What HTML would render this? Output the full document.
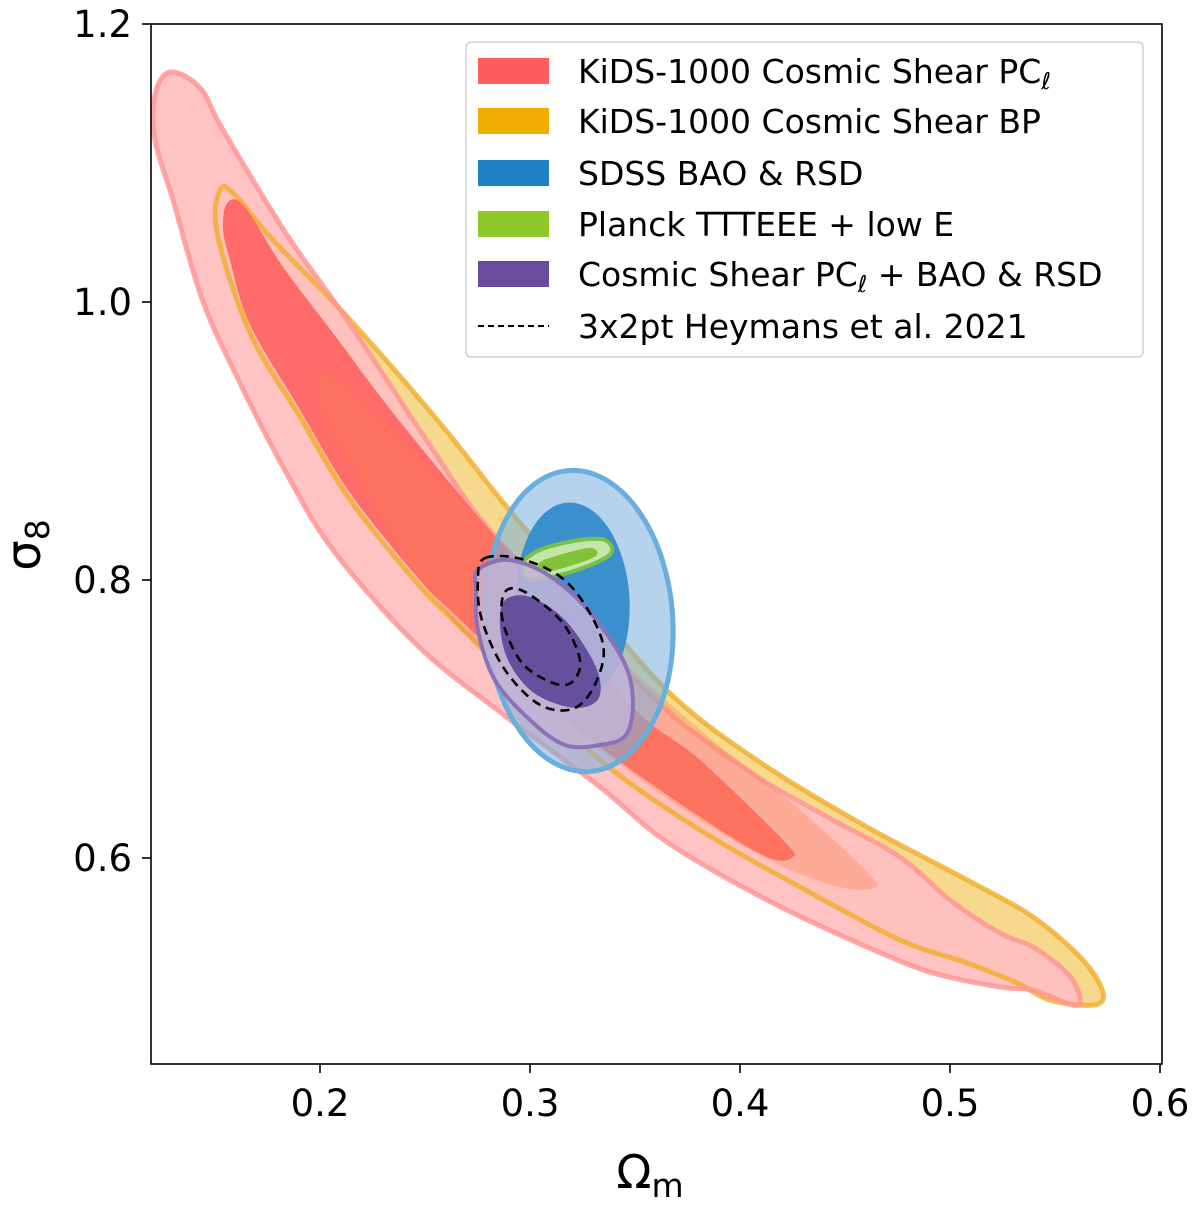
<!DOCTYPE html>
<html><head><meta charset="utf-8"><style>
html,body{margin:0;padding:0;background:#fff}
svg text{font-family:"DejaVu Sans","Liberation Sans",sans-serif;fill:#000}
</style></head><body>
<svg id="chart" width="1200" height="1203" viewBox="0 0 1200 1203" xmlns="http://www.w3.org/2000/svg">
<defs><clipPath id="clip"><rect x="151" y="24" width="1011" height="1040"/></clipPath></defs>
<g id="marks" clip-path="url(#clip)"></g>
<rect x="151" y="24" width="1011" height="1040" fill="none" stroke="#000" stroke-width="1.6"/>
<g id="axes"></g>
<text x="40" y="545" font-size="48" text-anchor="middle" transform="rotate(-90 40 545)">σ<tspan font-size="33" dy="9">8</tspan></text>
<text x="650" y="1188" font-size="46" text-anchor="middle">Ω<tspan font-size="33" dy="9">m</tspan></text>
<g id="legend"></g>
</svg>
<script>
const xTicks=[0.2,0.3,0.4,0.5,0.6];
const yTicks=[0.6,0.8,1.0,1.2];
const xTickLabels=["0.2","0.3","0.4","0.5","0.6"];
const yTickLabels=["0.6","0.8","1.0","1.2"];
const kidsPclOuter=[[0.1286,1.1655],[0.1429,1.1540],[0.1538,1.1237],[0.1843,1.0482],[0.2129,0.9871],[0.2538,0.8935],[0.2795,0.8381],[0.3214,0.7712],[0.3652,0.7065],[0.3810,0.6871],[0.4129,0.6540],[0.4443,0.6273],[0.4762,0.6007],[0.5,0.5698],[0.5238,0.5460],[0.5395,0.5360],[0.5557,0.5173],[0.5619,0.5],[0.5586,0.4942],[0.5395,0.5050],[0.5238,0.5072],[0.4919,0.5173],[0.4605,0.5360],[0.4129,0.5698],[0.3652,0.6115],[0.3333,0.6511],[0.2857,0.7050],[0.2462,0.7532],[0.2062,0.8216],[0.1824,0.8813],[0.1619,0.9417],[0.1440,1.0014],[0.1300,1.0734],[0.1214,1.1165],[0.1214,1.1489]];
const kidsPclInner=[[0.1562,1.0719],[0.1643,1.0683],[0.1824,1.0252],[0.2062,0.9777],[0.2300,0.9295],[0.2619,0.8698],[0.3048,0.7928],[0.3490,0.7086],[0.3810,0.6705],[0.4205,0.6129],[0.4252,0.6007],[0.4129,0.6007],[0.3810,0.6295],[0.3333,0.6799],[0.3048,0.7173],[0.2619,0.7784],[0.2462,0.8022],[0.2143,0.8626],[0.1905,0.9223],[0.1667,0.9835],[0.1571,1.0302],[0.1538,1.0540]];
const kidsBpOuter=[[0.1524,1.0806],[0.1595,1.0770],[0.1776,1.0446],[0.2143,0.9871],[0.2571,0.9129],[0.2890,0.8525],[0.3333,0.7748],[0.3700,0.7137],[0.4129,0.6655],[0.4605,0.6223],[0.5081,0.5842],[0.5395,0.5576],[0.5633,0.5266],[0.5729,0.5029],[0.5681,0.4942],[0.5476,0.4978],[0.5319,0.5101],[0.5081,0.5245],[0.4762,0.5410],[0.4286,0.5791],[0.3810,0.6201],[0.3333,0.6705],[0.2857,0.7388],[0.2619,0.7734],[0.2462,0.7978],[0.2143,0.8576],[0.1905,0.9173],[0.1667,0.9777],[0.1510,1.0496]];
const kidsBpInner=[[0.2,0.9460],[0.2119,0.9403],[0.2476,0.8863],[0.2857,0.8288],[0.3333,0.7568],[0.3810,0.6921],[0.4286,0.6345],[0.4619,0.5878],[0.4633,0.5784],[0.4476,0.5791],[0.4190,0.5950],[0.3810,0.6273],[0.3333,0.6777],[0.2857,0.7353],[0.2476,0.8],[0.2190,0.8719],[0.2024,0.9151],[0.1990,0.9367]];
const sdssCenter=[0.3235,0.7705];
const sdssOuterRadii=[0.0445,0.1085];
const sdssInnerCenter=[0.3205,0.7849];
const sdssInnerRadii=[0.0269,0.0709];
const planckOuter=[[0.2976,0.8144],[0.3071,0.8230],[0.3238,0.8288],[0.3357,0.8288],[0.3390,0.8201],[0.3310,0.8122],[0.3143,0.8036],[0.3,0.8],[0.2967,0.8058]];
const planckInner=[[0.3048,0.8129],[0.3190,0.8201],[0.3295,0.8230],[0.3314,0.8173],[0.3190,0.8101],[0.3062,0.8058]];
const comboOuter=[[0.2752,0.8072],[0.2895,0.8144],[0.3086,0.8036],[0.3276,0.7784],[0.3443,0.7424],[0.3490,0.7137],[0.3457,0.6885],[0.3333,0.6813],[0.3167,0.6813],[0.3,0.6993],[0.2833,0.7281],[0.2752,0.7640],[0.2743,0.7928]];
const comboInner=[[0.2881,0.7856],[0.3,0.7878],[0.3167,0.7712],[0.3310,0.7388],[0.3333,0.7173],[0.3262,0.7086],[0.3143,0.7101],[0.3,0.7209],[0.2895,0.7424],[0.2857,0.7676]];
const heymansOuter=[[0.2786,0.8158],[0.2976,0.8144],[0.3190,0.7964],[0.3343,0.7568],[0.3319,0.7281],[0.3214,0.7079],[0.3048,0.7101],[0.2881,0.7353],[0.2771,0.7712],[0.2752,0.8]];
const heymansInner=[[0.2881,0.7914],[0.2976,0.7914],[0.3152,0.7698],[0.3238,0.7424],[0.3200,0.7266],[0.3110,0.7259],[0.2962,0.7403],[0.2871,0.7698]];
const legendLabels=["KiDS-1000 Cosmic Shear PC","KiDS-1000 Cosmic Shear BP","SDSS BAO & RSD","Planck TTTEEE + low E","Cosmic Shear PC","3x2pt Heymans et al. 2021"];

const NS="http://www.w3.org/2000/svg";
const X=v=>152+(v-0.12)*2100;
const Y=v=>24+(1.2-v)*1390;
function el(tag,attrs,parent){const e=document.createElementNS(NS,tag);for(const k in attrs)e.setAttribute(k,attrs[k]);parent.appendChild(e);return e;}
function smoothPath(pts){
  const p=pts.map(d=>[X(d[0]),Y(d[1])]);const n=p.length;let s=`M${p[0][0]},${p[0][1]}`;
  for(let i=0;i<n;i++){const p0=p[(i-1+n)%n],p1=p[i],p2=p[(i+1)%n],p3=p[(i+2)%n];
    const c1=[p1[0]+(p2[0]-p0[0])/6,p1[1]+(p2[1]-p0[1])/6],c2=[p2[0]-(p3[0]-p1[0])/6,p2[1]-(p3[1]-p1[1])/6];
    s+=`C${c1[0]},${c1[1]} ${c2[0]},${c2[1]} ${p2[0]},${p2[1]}`;}
  return s+"Z";}
const marks=document.getElementById('marks');
function contour(pts,fill,stroke,sw,name,extra){
  const e=el('path',Object.assign({d:smoothPath(pts),fill:fill,stroke:stroke,'stroke-width':sw,'stroke-linejoin':'round'},extra||{}),marks);
  
  
  return e;}
function ellipse(c,r,rot,fill,stroke,sw,name){
  const rx=r[0]*2100,ry=r[1]*1390;
  const e=el('ellipse',{cx:X(c[0]),cy:Y(c[1]),rx:rx,ry:ry,transform:`rotate(${rot} ${X(c[0])} ${Y(c[1])})`,fill:fill,stroke:stroke,'stroke-width':sw},marks);
  
  }
contour(kidsBpOuter,'#f7d98e','none',0,'kids-bp-outer-fill');
contour(kidsPclOuter,'rgba(255,190,192,0.93)','none',0,'kids-pcl-outer-contour');
contour(kidsBpOuter,'none','rgba(240,172,40,0.8)',5,'kids-bp-outer-contour');
contour(kidsPclOuter,'none','rgba(255,150,150,0.85)',5,'kids-pcl-outer-edge');
contour(kidsPclInner,'#ff6b68','none',0,'kids-pcl-inner-contour');
contour(kidsBpInner,'rgba(250,130,80,0.35)','none',0,'kids-bp-inner-contour');
ellipse(sdssCenter,sdssOuterRadii,-4,'rgba(120,175,220,0.55)','#6aaede',5,'sdss-outer-contour');
ellipse(sdssInnerCenter,sdssInnerRadii,-3,'#3a90cc','none',0,'sdss-inner-contour');
contour(planckOuter,'#c4e6a8','#78c04a',4,'planck-outer-contour');
contour(planckInner,'#82c23a','none',0,'planck-inner-contour');
contour(comboOuter,'rgba(195,180,215,0.85)','#8a72b8',4,'combo-outer-contour');
contour(comboInner,'#65509e','none',0,'combo-inner-contour');
contour(heymansOuter,'none','#000',2.6,'heymans-outer-contour',{'stroke-dasharray':'9,6'});
contour(heymansInner,'none','#000',2.6,'heymans-inner-contour',{'stroke-dasharray':'9,6'});

const axes=document.getElementById('axes');
xTicks.forEach((t,i)=>{
  const l=el('line',{x1:X(t),x2:X(t),y1:1064,y2:1073,stroke:'#000','stroke-width':1.6},axes);
  
  
  const tx=el('text',{x:X(t),y:1116,'font-size':37,'text-anchor':'middle'},axes);tx.textContent=xTickLabels[i];
  
  });
yTicks.forEach((t,i)=>{
  const l=el('line',{x1:142,x2:151,y1:Y(t),y2:Y(t),stroke:'#000','stroke-width':1.6},axes);
  
  
  const tx=el('text',{x:132,y:Y(t)+13,'font-size':37,'text-anchor':'end'},axes);tx.textContent=yTickLabels[i];
  
  });

const lg=document.getElementById('legend');
const box=el('rect',{x:466,y:42,width:677,height:315,rx:5,fill:'rgba(255,255,255,0.85)',stroke:'#d0d0d0','stroke-width':1.5},lg);


const swatches=['#ff5c5c','#f0ae00','#1f80c4','#8cc82a','#6a4c9c',null];
const rowsY=[71,121,173,224,274,326];
legendLabels.forEach((lab,i)=>{
  const g=el('g',{},lg);
  
  
  if(swatches[i]) el('rect',{x:478,y:rowsY[i]-13,width:71,height:26,fill:swatches[i]},g);
  else el('line',{x1:478,x2:549,y1:rowsY[i],y2:rowsY[i],stroke:'#000','stroke-width':2,'stroke-dasharray':'6,4'},g);
  const t=el('text',{x:578,y:rowsY[i]+12,'font-size':33},g);
  if(i===0||i===4){t.textContent=lab;const s=el('tspan',{'font-size':23,dy:6,'font-style':'italic'},t);s.textContent='ℓ';
    if(i===4){const r=el('tspan',{dy:-6},t);r.textContent=' + BAO & RSD';}}
  else t.textContent=lab;
});
</script>
</body></html>
